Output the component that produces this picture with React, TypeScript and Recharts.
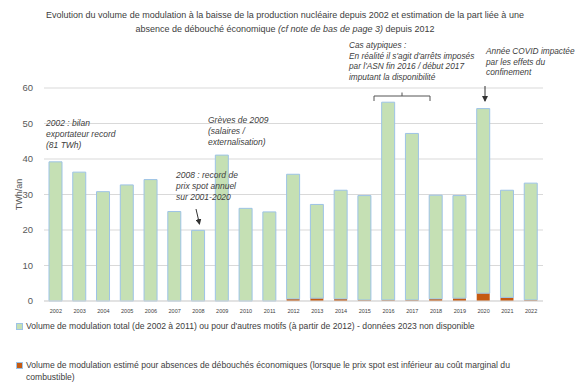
import React from 'react'
import { Bar, BarChart, CartesianGrid, XAxis, YAxis } from 'recharts'

const years = [
  '2002', '2003', '2004', '2005', '2006', '2007', '2008', '2009', '2010', '2011', '2012',
  '2013', '2014', '2015', '2016', '2017', '2018', '2019', '2020', '2021', '2022',
]
// modulation pour autres motifs (TWh/an)
const autresMotifs = [
  39.2, 36.3, 30.8, 32.7, 34.2, 25.2, 19.9, 41.1, 26.1, 25.1, 35.1,
  26.4, 30.6, 29.4, 55.7, 46.9, 29.2, 28.9, 52.0, 30.2, 32.9,
]
// modulation estimée pour absence de débouchés économiques
const sansDebouche = [
  0, 0, 0, 0, 0, 0, 0, 0, 0, 0, 0.6,
  0.8, 0.6, 0.3, 0.3, 0.3, 0.6, 0.8, 2.2, 1.0, 0.3,
]
const yTicks = [0, 10, 20, 30, 40, 50, 60]

const data = years.map((year, i) => ({ year, autres: autresMotifs[i], eco: sansDebouche[i] }))

const font = "'Liberation Sans', Arial, sans-serif"
const textColor = '#404040'
const green = '#C5E0B4'
const blue = '#9DC3E6'
const orange = '#C55A11'

const abs = (left: number, top: number, extra: React.CSSProperties = {}): React.CSSProperties => ({
  position: 'absolute',
  left,
  top,
  fontFamily: font,
  color: textColor,
  whiteSpace: 'nowrap',
  ...extra,
})

const note: React.CSSProperties = { fontStyle: 'italic', fontSize: 8.5, lineHeight: '11px' }

export default function App() {
  return (
    <div style={{ position: 'absolute', left: 0, top: 0, width: 575, height: 388, background: '#fff' }}>
      <BarChart
        width={575}
        height={388}
        data={data}
        margin={{ top: 88, right: 32, bottom: 67, left: 0 }}
        barSize={13}
      >
        <CartesianGrid vertical={false} stroke='#D9D9D9' />
        <XAxis
          dataKey='year'
          tickLine={false}
          axisLine={{ stroke: '#D9D9D9' }}
          tick={{ fontSize: 5.5, fill: textColor, fontFamily: font }}
          interval={0}
          height={20}
        />
        <YAxis
          width={44}
          domain={[0, 60]}
          ticks={yTicks}
          tickLine={false}
          axisLine={false}
          tickMargin={5}
          tick={{ fontSize: 9.5, fill: '#595959', fontFamily: font }}
          label={{
            value: 'TWh/an',
            angle: -90,
            position: 'insideLeft',
            dx: 14,
            style: { fontSize: 9, fill: '#595959', fontFamily: font, textAnchor: 'middle' },
          }}
        />
        <Bar dataKey='eco' stackId='a' fill={orange} isAnimationActive={false} />
        <Bar dataKey='autres' stackId='a' fill={green} stroke={blue} strokeWidth={1} isAnimationActive={false} />
      </BarChart>

      <div style={abs(0, 8, { width: 570, textAlign: 'center', fontSize: 9, lineHeight: '14px' })}>
        <div>
          Evolution du volume de modulation à la baisse de la production nucléaire depuis 2002 et estimation de la part liée à une
        </div>
        <div>
          absence de débouché économique <i>(cf note de bas de page 3)</i> depuis 2012
        </div>
      </div>

      <div style={abs(46, 118, note)}>
        2002 : bilan
        <br />
        exportateur record
        <br />
        (81 TWh)
      </div>
      <div style={abs(208, 115, note)}>
        Grèves de 2009
        <br />
        (salaires /
        <br />
        externalisation)
      </div>
      <div style={abs(176, 170, note)}>
        2008 : record de
        <br />
        prix spot annuel
        <br />
        sur 2001-2020
      </div>
      <div style={abs(349, 40, { ...note, fontSize: 8.3, lineHeight: '10.5px' })}>
        Cas atypiques :
        <br />
        En réalité il s'agit d'arrêts imposés
        <br />
        par l'ASN fin 2016 / début 2017
        <br />
        imputant la disponibilité
      </div>
      <div style={abs(486, 46, { ...note, fontSize: 8.3, lineHeight: '10.5px' })}>
        Année COVID impactée
        <br />
        par les effets du
        <br />
        confinement
      </div>

      <svg width={575} height={388} style={{ position: 'absolute', left: 0, top: 0, pointerEvents: 'none' }}>
        <defs>
          <marker id='head' markerWidth='6' markerHeight='6' refX='5' refY='3' orient='auto'>
            <path d='M0,0 L6,3 L0,6 z' fill='#333' />
          </marker>
        </defs>
        <line x1={196} y1={209} x2={199.5} y2={224} stroke='#333' strokeWidth={1} markerEnd='url(#head)' />
        <line x1={485} y1={86} x2={485} y2={101} stroke='#333' strokeWidth={1} markerEnd='url(#head)' />
        <path d='M374,101 L374,96 L430,96 L430,101 M402,96 L402,92.5' fill='none' stroke='#555' strokeWidth={1} />
      </svg>

      <div style={abs(16, 320, { fontSize: 8.6, lineHeight: '12px', display: 'flex', alignItems: 'flex-start' })}>
        <span
          style={{ display: 'inline-block', width: 5, height: 5, flex: 'none', background: green, border: `1px solid ${blue}`, marginTop: 3, marginRight: 3 }}
        />
        <span>
          Volume de modulation total (de 2002 à 2011) ou pour d'autres motifs (à partir de 2012) - données 2023 non disponible
        </span>
      </div>
      <div style={abs(16, 359, { fontSize: 8.6, lineHeight: '12px', display: 'flex', alignItems: 'flex-start', whiteSpace: 'normal', width: 520 })}>
        <span
          style={{ display: 'inline-block', width: 5, height: 5, flex: 'none', background: orange, border: `1px solid ${blue}`, marginTop: 3, marginRight: 3 }}
        />
        <span>
          Volume de modulation estimé pour absences de débouchés économiques (lorsque le prix spot est inférieur au coût marginal du
          combustible)
        </span>
      </div>
    </div>
  )
}
